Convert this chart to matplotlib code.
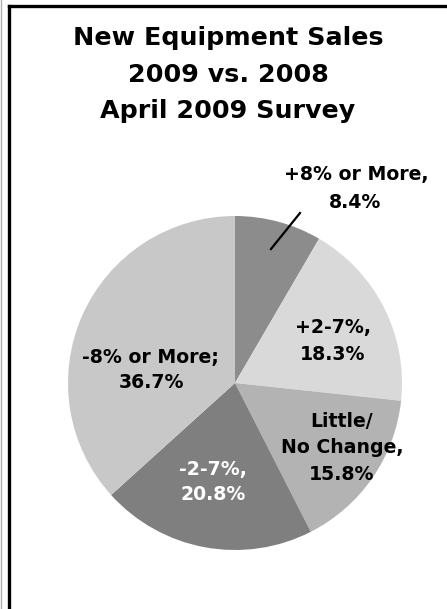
import matplotlib
matplotlib.use("Agg")
import matplotlib.pyplot as plt
from matplotlib.lines import Line2D

# survey shares, clockwise from 12 o'clock
categories = ["+8% or More", "+2-7%", "Little/No Change", "-2-7%", "-8% or More"]
shares = [8.4, 18.3, 15.8, 20.8, 36.7]
colors = ["#8c8c8c", "#d9d9d9", "#b3b3b3", "#7f7f7f", "#c8c8c8"]

W, H = 447, 609
plt.rcParams['font.family'] = ['DejaVu Sans']
fig = plt.figure(figsize=(W / 100, H / 100), dpi=100)


def px(x, y):
    # pixel position -> figure fraction
    return x / W, 1 - y / H


# pie, centre (235, 383) px, radius 167 px
r = 167
ax = fig.add_axes([(235 - r) / W, 1 - (383 + r) / H, 2 * r / W, 2 * r / H])
ax.pie(shares, colors=colors, startangle=90, counterclock=False,
       radius=1, wedgeprops=dict(linewidth=0))
ax.set_xlim(-1, 1)
ax.set_ylim(-1, 1)
ax.set_axis_off()

# title
title = ["New Equipment Sales", "2009 vs. 2008", "April 2009 Survey"]
for line, y in zip(title, [45, 82, 118]):
    fig.text(*px(228, y), line, ha='center', va='baseline',
             fontsize=18.3, fontweight='bold')

# slice labels: (text, x, baseline y, colour)
labels = [
    ("+8% or More,", 356, 180, 'k'), (f"{shares[0]}%", 355, 208, 'k'),
    ("+2-7%,", 333, 333, 'k'), (f"{shares[1]}%", 333, 360, 'k'),
    ("Little/", 342, 427, 'k'), ("No Change,", 342, 453, 'k'),
    (f"{shares[2]}%", 342, 480, 'k'),
    ("-2-7%,", 213, 475, 'w'), (f"{shares[3]}%", 213, 500, 'w'),
    ("-8% or More;", 150, 363, 'k'), (f"{shares[4]}%", 151, 388, 'k'),
]
for s, x, y, c in labels:
    fig.text(*px(x, y), s, ha='center', va='baseline',
             fontsize=13.6, fontweight='bold', color=c)

# leader line for the small slice
x0, y0 = px(300, 213)
x1, y1 = px(271, 249)
fig.add_artist(Line2D([x0, x1], [y0, y1], color='k', lw=1.6))

# frame: top and left edges
fig.add_artist(Line2D([8.5 / W, 1], [1 - 6 / H, 1 - 6 / H], color='k', lw=2.4))
fig.add_artist(Line2D([8.5 / W, 8.5 / W], [0, 1 - 6 / H], color='k', lw=2.4))
fig.add_artist(Line2D([1 / W, 1 / W], [0, 1], color='#b0b0b0', lw=1))

fig.savefig("out.png", dpi=100)
